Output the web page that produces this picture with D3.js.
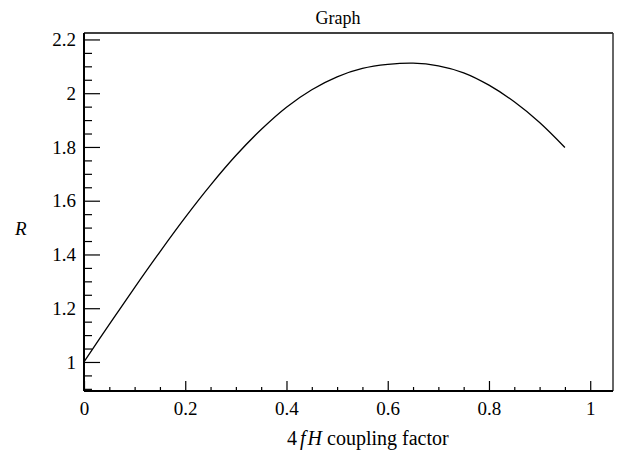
<!DOCTYPE html>
<html>
<head>
<meta charset="utf-8">
<script src="https://cdn.jsdelivr.net/npm/d3@7"></script>
<style>
    body { margin: 0; background: #fff; }
</style>
</head>
<body>
<svg id="chart"></svg>
<script>
// coupling factor 4fH
var couplingX = [0, 0.05, 0.1, 0.15, 0.2, 0.25, 0.3, 0.35, 0.4, 0.45, 0.5,
                 0.55, 0.6, 0.65, 0.7, 0.75, 0.8, 0.85, 0.9, 0.95];
// R values
var ratioR = [1.0, 1.14, 1.277, 1.41, 1.538, 1.658, 1.768, 1.865, 1.948, 2.013, 2.061,
              2.092, 2.107, 2.112, 2.102, 2.076, 2.03, 1.968, 1.891, 1.798];

var xMajor = [0, 0.2, 0.4, 0.6, 0.8, 1];
var yMajor = [1, 1.2, 1.4, 1.6, 1.8, 2, 2.2];
var yTickLabels = ["1", "1.2", "1.4", "1.6", "1.8", "2", "2.2"];

var serif = "'Liberation Serif', 'Times New Roman', 'DejaVu Serif', serif";

var width = 625, height = 456;
var margin = {top: 33, right: 12, bottom: 65, left: 84};
var w = width - margin.left - margin.right;
var h = height - margin.top - margin.bottom;

var svg = d3.select("#chart")
    .attr("width", width)
    .attr("height", height);

var g = svg.append("g")
    .attr("transform", "translate(" + margin.left + "," + margin.top + ")");

var x = d3.scaleLinear().domain([0, 1.045]).range([0, w]);
var y = d3.scaleLinear().domain([0.892, 2.224]).range([h, 0]);

var xMinor = d3.range(0, 1.04, 0.05).filter(function (v) {
    return xMajor.every(function (m) { return Math.abs(m - v) > 1e-6; });
});
var yMinor = d3.range(0.9, 2.22, 0.05).filter(function (v) {
    return yMajor.every(function (m) { return Math.abs(m - v) > 1e-6; });
});

// frame: top and right
g.append("line")
    .attr("x1", 0).attr("x2", w).attr("y1", 0).attr("y2", 0)
    .attr("stroke", "#000").attr("stroke-width", 1.5);
g.append("line")
    .attr("x1", w).attr("x2", w).attr("y1", 0).attr("y2", h)
    .attr("stroke", "#333").attr("stroke-width", 1.5);

// minor ticks
g.append("g")
    .attr("class", "axis minor")
    .attr("transform", "translate(0," + h + ")")
    .call(d3.axisBottom(x).tickValues(xMinor).tickSize(-4).tickFormat(""));
g.append("g")
    .attr("class", "axis minor")
    .call(d3.axisLeft(y).tickValues(yMinor).tickSize(-8).tickFormat(""));

// major ticks
g.append("g")
    .attr("class", "axis")
    .attr("transform", "translate(0," + h + ")")
    .call(d3.axisBottom(x).tickValues(xMajor).tickSize(-10).tickPadding(11)
        .tickFormat(function (d) { return d3.format("")(d); }));

g.append("g")
    .attr("class", "axis")
    .call(d3.axisLeft(y).tickValues(yMajor).tickSize(-16).tickPadding(8)
        .tickFormat(function (d, i) { return yTickLabels[i]; }));

g.selectAll(".axis")
    .attr("font-family", serif)
    .attr("font-size", 19);
g.selectAll(".axis .domain").remove();
g.selectAll(".axis line").attr("stroke", "#000").attr("stroke-width", 1.2);
g.selectAll(".axis text")
    .style("font-family", serif)
    .style("font-size", "19px")
    .attr("fill", "#000");

// axis lines (thick)
g.append("line")
    .attr("x1", 0).attr("x2", 0).attr("y1", 0).attr("y2", h)
    .attr("stroke", "#000").attr("stroke-width", 2);
g.append("line")
    .attr("x1", 0).attr("x2", w).attr("y1", h).attr("y2", h)
    .attr("stroke", "#000").attr("stroke-width", 2);

// curve
var points = couplingX.map(function (d, i) { return [d, ratioR[i]]; });
var line = d3.line()
    .x(function (d) { return x(d[0]); })
    .y(function (d) { return y(d[1]); })
    .curve(d3.curveCatmullRom);

g.append("path")
    .datum(points)
    .attr("d", line)
    .attr("fill", "none")
    .attr("stroke", "#000")
    .attr("stroke-width", 1.3);

// title
svg.append("text")
    .attr("x", 338)
    .attr("y", 24)
    .attr("text-anchor", "middle")
    .style("font-family", serif)
    .style("font-size", "18px")
    .text("Graph");

// x label
var xl = svg.append("text")
    .attr("x", 287)
    .attr("y", 445)
    .style("font-family", serif)
    .style("font-size", "20px");
xl.append("tspan").text("4");
xl.append("tspan").attr("font-style", "italic").attr("dx", 3).text("f");
xl.append("tspan").attr("font-style", "italic").attr("dx", 2).text("H");
xl.append("tspan").text(" coupling factor");

// y label
svg.append("text")
    .attr("x", 15)
    .attr("y", 235)
    .attr("font-style", "italic")
    .style("font-family", serif)
    .style("font-size", "19px")
    .text("R");
</script>
</body>
</html>
